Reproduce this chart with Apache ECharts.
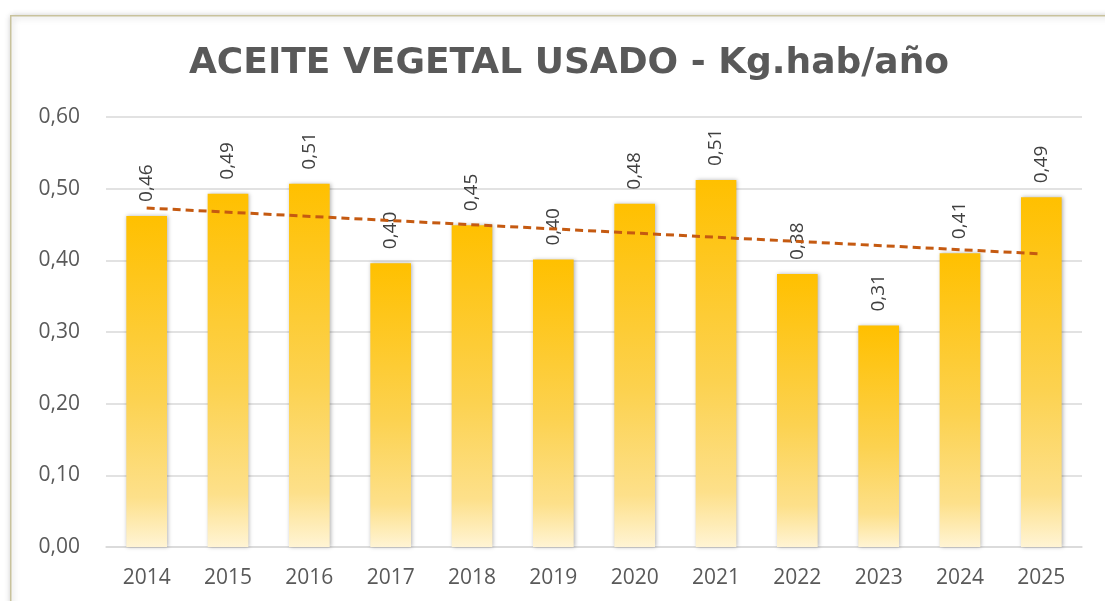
<!DOCTYPE html>
<html>
<head>
    <meta charset="utf-8">
    <title>ECharts</title>
    <script src="https://cdn.jsdelivr.net/npm/echarts@6/dist/echarts.min.js"></script>
    <style>
        html, body { margin: 0; padding: 0; background: #fff; }
    </style>
</head>
<body>
<div id="main" style="width: 1105px;height:601px;"></div>
<script>
    // datos
    var years = ['2014', '2015', '2016', '2017', '2018', '2019', '2020', '2021', '2022', '2023', '2024', '2025'];
    var kgHab = [0.462, 0.493, 0.507, 0.396, 0.449, 0.401, 0.479, 0.512, 0.381, 0.309, 0.410, 0.488];
    // linea de tendencia: extremos (2014 y 2025)
    var trendEnds = [0.473, 0.409];
    var yTicks = [0, 0.6, 0.1];

    var trend = years.map(function (y, i) {
        if (i === 0) return trendEnds[0];
        if (i === years.length - 1) return trendEnds[1];
        return null;
    });

    function coma(v) {
        return v.toFixed(2).replace('.', ',');
    }

    var myChart = echarts.init(document.getElementById('main'));
    var option = {
        animation: false,
        backgroundColor: '#fff',
        textStyle: { fontFamily: 'Open Sans' },
        graphic: [{
            type: 'rect',
            left: 10, top: 15,
            shape: { width: 1200, height: 700 },
            style: {
                fill: '#fff',
                stroke: '#C8C29C',
                lineWidth: 1.5,
                shadowBlur: 6,
                shadowColor: 'rgba(0,0,0,0.25)',
                shadowOffsetX: 1,
                shadowOffsetY: 1
            },
            z: -10
        }],
        title: {
            text: 'ACEITE VEGETAL USADO - Kg.hab/año',
            left: 564,
            textAlign: 'center',
            top: 41,
            textStyle: {
                fontFamily: 'DejaVu Sans',
                fontWeight: 'bold',
                fontSize: 36,
                color: '#595959'
            }
        },
        grid: { left: 106, right: 23, top: 117, bottom: 54 },
        xAxis: {
            type: 'category',
            data: years,
            axisTick: { show: false },
            axisLine: { lineStyle: { color: '#D9D9D9', width: 1.5 } },
            axisLabel: { color: '#595959', fontSize: 21, margin: 21 }
        },
        yAxis: {
            type: 'value',
            min: yTicks[0],
            max: yTicks[1],
            interval: yTicks[2],
            axisLabel: {
                color: '#595959', fontSize: 21, margin: 26,
                formatter: coma
            },
            splitLine: { lineStyle: { color: '#D9D9D9', width: 1.5 } }
        },
        series: [{
            name: 'Kg.hab/año',
            type: 'bar',
            data: kgHab,
            barWidth: '50%',
            itemStyle: {
                color: new echarts.graphic.LinearGradient(0, 0, 0, 1, [
                    { offset: 0, color: '#FFC000' },
                    { offset: 0.55, color: '#FCD250' },
                    { offset: 0.85, color: '#FDE08A' },
                    { offset: 1, color: '#FFF4D4' }
                ]),
                shadowBlur: 4,
                shadowColor: 'rgba(0,0,0,0.3)',
                shadowOffsetX: 1
            },
            label: {
                show: true,
                position: 'top',
                rotate: 90,
                align: 'left',
                verticalAlign: 'middle',
                distance: 14,
                color: '#404040',
                fontSize: 19,
                formatter: function (p) { return coma(p.value); }
            }
        }, {
            name: 'tendencia',
            type: 'line',
            data: trend,
            connectNulls: true,
            symbol: 'none',
            lineStyle: { color: '#C55A11', width: 3, type: [8, 5] },
            z: 5
        }]
    };
    myChart.setOption(option);
</script>
</body>
</html>
